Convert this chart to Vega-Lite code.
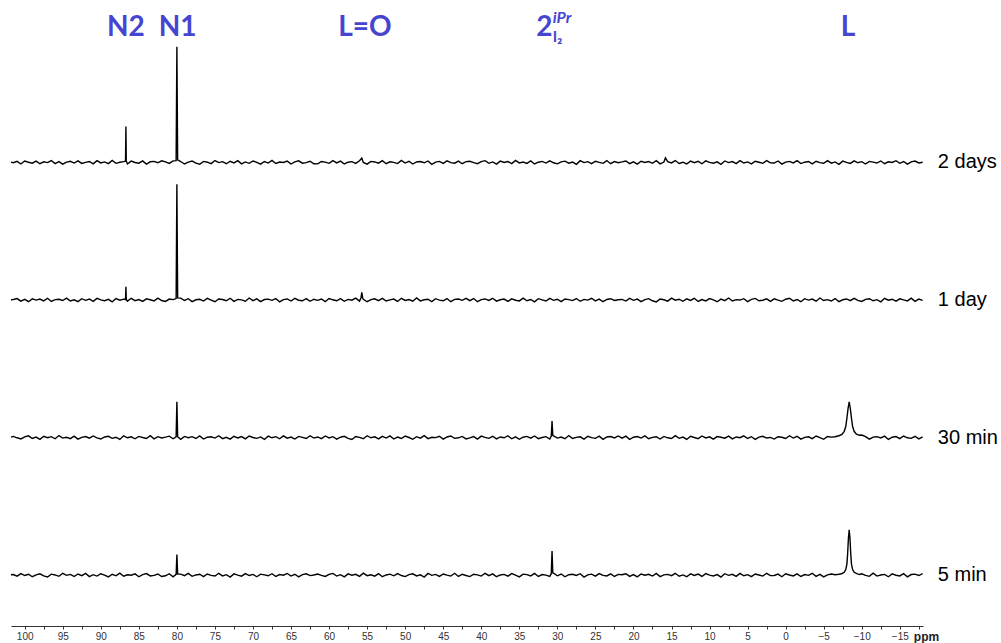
{
"$schema": "https://vega.github.io/schema/vega-lite/v6.json",
"width": 912, "height": 626,
"autosize": {"type": "none"},
"padding": {"left": 11, "top": 0, "right": 78, "bottom": 17},
"background": "white",
"config": {"view": {"stroke": null}},
"datasets": {
"spec": [
{"s":0,"x":101.8,"y":0.2},{"s":0,"x":101.5,"y":0.4},{"s":0,"x":101,"y":-0.8},{"s":0,"x":100.5,"y":1.1},{"s":0,"x":100,"y":-0.3},{"s":0,"x":99.5,"y":0.6},{"s":0,"x":99,"y":-1.2},{"s":0,"x":98.5,"y":0.2},{"s":0,"x":98,"y":0.9},{"s":0,"x":97.5,"y":-0.6},{"s":0,"x":97,"y":-1.4},{"s":0,"x":96.5,"y":0.7},{"s":0,"x":96,"y":0.1},{"s":0,"x":95.5,"y":-0.9},{"s":0,"x":95,"y":1.3},{"s":0,"x":94.5,"y":-0.2},{"s":0,"x":94,"y":0.5},{"s":0,"x":93.5,"y":-1},{"s":0,"x":93,"y":0.8},{"s":0,"x":92.5,"y":-0.4},{"s":0,"x":92,"y":1.2},{"s":0,"x":91.5,"y":-1.1},{"s":0,"x":91,"y":0.3},{"s":0,"x":90.5,"y":-0.7},{"s":0,"x":90,"y":1},{"s":0,"x":89.5,"y":0},{"s":0,"x":89,"y":-1.3},{"s":0,"x":88.5,"y":0.6},{"s":0,"x":88,"y":-0.5},{"s":0,"x":87.5,"y":1.4},{"s":0,"x":87,"y":-0.8},{"s":0,"x":86.5,"y":0.2},{"s":0,"x":86,"y":-0.1},{"s":0,"x":85.5,"y":0.9},{"s":0,"x":85,"y":-1.2},{"s":0,"x":84.5,"y":0.4},{"s":0,"x":84,"y":1.1},{"s":0,"x":83.5,"y":-0.6},{"s":0,"x":83,"y":-0.2},{"s":0,"x":82.5,"y":0.8},{"s":0,"x":82,"y":-1},
{"s":0,"x":81.5,"y":-0.5},{"s":0,"x":81,"y":1},{"s":0,"x":80.5,"y":-1.3},{"s":0,"x":80.1,"y":0.5},{"s":0,"x":80,"y":15},{"s":0,"x":79.9,"y":0.8},{"s":0,"x":79.5,"y":0.7},{"s":0,"x":79,"y":-0.4},{"s":0,"x":78.5,"y":1.2},{"s":0,"x":78,"y":-0.9},{"s":0,"x":77.5,"y":0.1},{"s":0,"x":77,"y":0.6},{"s":0,"x":76.5,"y":-1.1},{"s":0,"x":76,"y":0.8},{"s":0,"x":75.5,"y":-0.2},{"s":0,"x":75,"y":-0.7},{"s":0,"x":74.5,"y":1.3},{"s":0,"x":74,"y":-0.6},{"s":0,"x":73.5,"y":0.3},{"s":0,"x":73,"y":-1.4},{"s":0,"x":72.5,"y":0.9},{"s":0,"x":72,"y":0},{"s":0,"x":71.5,"y":-0.8},{"s":0,"x":71,"y":1.1},{"s":0,"x":70.5,"y":-0.3},{"s":0,"x":70,"y":0.5},{"s":0,"x":69.5,"y":-1.2},{"s":0,"x":69,"y":0.7},{"s":0,"x":68.5,"y":0.2},{"s":0,"x":68,"y":-0.5},{"s":0,"x":67.5,"y":1},{"s":0,"x":67,"y":-1},{"s":0,"x":66.5,"y":0.4},{"s":0,"x":66,"y":-0.1},{"s":0,"x":65.5,"y":1.2},{"s":0,"x":65,"y":-0.7},{"s":0,"x":64.5,"y":0.6},{"s":0,"x":64,"y":-1.3},{"s":0,"x":63.5,"y":0.3},{"s":0,"x":63,"y":0.9},{"s":0,"x":62.5,"y":-0.4},{"s":0,"x":62,"y":0.1},
{"s":0,"x":61.5,"y":0.8},{"s":0,"x":61,"y":-0.2},{"s":0,"x":60.5,"y":-1},{"s":0,"x":60,"y":0.5},{"s":0,"x":59.5,"y":1.2},{"s":0,"x":59,"y":-0.7},{"s":0,"x":58.5,"y":0.3},{"s":0,"x":58,"y":-1.3},{"s":0,"x":57.5,"y":0.9},{"s":0,"x":57,"y":-0.1},{"s":0,"x":56.5,"y":0.6},{"s":0,"x":56,"y":-0.9},{"s":0,"x":55.5,"y":1.4},{"s":0,"x":55,"y":-0.4},{"s":0,"x":54.5,"y":0.2},{"s":0,"x":54,"y":-0.8},{"s":0,"x":53.5,"y":1},{"s":0,"x":53,"y":-1.2},{"s":0,"x":52.5,"y":0.1},{"s":0,"x":52,"y":0.7},{"s":0,"x":51.5,"y":-0.5},{"s":0,"x":51,"y":1.1},{"s":0,"x":50.5,"y":-0.3},{"s":0,"x":50,"y":-1.1},{"s":0,"x":49.5,"y":0.4},{"s":0,"x":49,"y":0.9},{"s":0,"x":48.5,"y":-0.6},{"s":0,"x":48,"y":0.2},{"s":0,"x":47.5,"y":-1.4},{"s":0,"x":47,"y":1.2},{"s":0,"x":46.5,"y":-0.2},{"s":0,"x":46,"y":0.5},{"s":0,"x":45.5,"y":-0.9},{"s":0,"x":45,"y":0.8},{"s":0,"x":44.5,"y":0},{"s":0,"x":44,"y":-0.7},{"s":0,"x":43.5,"y":1.3},{"s":0,"x":43,"y":-1},{"s":0,"x":42.5,"y":0.6},{"s":0,"x":42,"y":-0.3},
{"s":0,"x":41.5,"y":-1.1},{"s":0,"x":41,"y":0.6},{"s":0,"x":40.5,"y":0.2},{"s":0,"x":40,"y":-0.7},{"s":0,"x":39.5,"y":1.3},{"s":0,"x":39,"y":-0.4},{"s":0,"x":38.5,"y":0.9},{"s":0,"x":38,"y":-1.2},{"s":0,"x":37.5,"y":0.1},{"s":0,"x":37,"y":0.5},{"s":0,"x":36.5,"y":-0.8},{"s":0,"x":36,"y":1.1},{"s":0,"x":35.5,"y":-0.1},{"s":0,"x":35,"y":-1.3},{"s":0,"x":34.5,"y":0.7},{"s":0,"x":34,"y":0.3},{"s":0,"x":33.5,"y":-0.6},{"s":0,"x":33,"y":1.2},{"s":0,"x":32.5,"y":-1},{"s":0,"x":32,"y":0.4},{"s":0,"x":31.5,"y":0},{"s":0,"x":31,"y":-0.9},{"s":0,"x":30.8,"y":1},{"s":0,"x":30.7,"y":17.5},{"s":0,"x":30.6,"y":1.5},{"s":0,"x":30.5,"y":1.4},{"s":0,"x":30,"y":-0.5},{"s":0,"x":29.5,"y":0.8},{"s":0,"x":29,"y":-1.2},{"s":0,"x":28.5,"y":0.3},{"s":0,"x":28,"y":0.6},{"s":0,"x":27.5,"y":-0.3},{"s":0,"x":27,"y":1},{"s":0,"x":26.5,"y":-1.4},{"s":0,"x":26,"y":0.2},{"s":0,"x":25.5,"y":0.7},{"s":0,"x":25,"y":-0.8},{"s":0,"x":24.5,"y":1.1},{"s":0,"x":24,"y":-0.2},{"s":0,"x":23.5,"y":-0.6},{"s":0,"x":23,"y":0.9},{"s":0,"x":22.5,"y":-1},{"s":0,"x":22,"y":0.5},
{"s":0,"x":21.5,"y":0.3},{"s":0,"x":21,"y":1},{"s":0,"x":20.5,"y":-0.9},{"s":0,"x":20,"y":0.4},{"s":0,"x":19.5,"y":-1.3},{"s":0,"x":19,"y":0.8},{"s":0,"x":18.5,"y":-0.1},{"s":0,"x":18,"y":0.6},{"s":0,"x":17.5,"y":-0.7},{"s":0,"x":17,"y":1.2},{"s":0,"x":16.5,"y":-1.1},{"s":0,"x":16,"y":0.2},{"s":0,"x":15.5,"y":0.5},{"s":0,"x":15,"y":-0.4},{"s":0,"x":14.5,"y":1.3},{"s":0,"x":14,"y":-0.8},{"s":0,"x":13.5,"y":0.1},{"s":0,"x":13,"y":-1.2},{"s":0,"x":12.5,"y":0.9},{"s":0,"x":12,"y":-0.3},{"s":0,"x":11.5,"y":0.7},{"s":0,"x":11,"y":-1},{"s":0,"x":10.5,"y":1.1},{"s":0,"x":10,"y":0},{"s":0,"x":9.5,"y":-0.6},{"s":0,"x":9,"y":0.4},{"s":0,"x":8.5,"y":-1.4},{"s":0,"x":8,"y":1},{"s":0,"x":7.5,"y":-0.2},{"s":0,"x":7,"y":0.6},{"s":0,"x":6.5,"y":-0.9},{"s":0,"x":6,"y":1.2},{"s":0,"x":5.5,"y":-0.5},{"s":0,"x":5,"y":0.3},{"s":0,"x":4.5,"y":-1.1},{"s":0,"x":4,"y":0.8},{"s":0,"x":3.5,"y":0.1},{"s":0,"x":3,"y":-0.7},{"s":0,"x":2.5,"y":1.3},{"s":0,"x":2,"y":-0.4},
{"s":0,"x":1.5,"y":-0.3},{"s":0,"x":1,"y":0.7},{"s":0,"x":0.5,"y":-1.2},{"s":0,"x":0,"y":1},{"s":0,"x":-0.5,"y":0.1},{"s":0,"x":-1,"y":-0.6},{"s":0,"x":-1.5,"y":0.9},{"s":0,"x":-2,"y":-1},{"s":0,"x":-2.5,"y":0.4},{"s":0,"x":-3,"y":-0.2},{"s":0,"x":-3.5,"y":1.3},{"s":0,"x":-4,"y":-0.9},{"s":0,"x":-4.5,"y":0.5},{"s":0,"x":-5,"y":-1.3},{"s":0,"x":-5.5,"y":0.2},{"s":0,"x":-6,"y":0.8},{"s":0,"x":-6.5,"y":0.3},{"s":0,"x":-7,"y":0.6},{"s":0,"x":-7.35,"y":1},{"s":0,"x":-7.7,"y":2},{"s":0,"x":-7.9,"y":4},{"s":0,"x":-8.05,"y":8},{"s":0,"x":-8.15,"y":16},{"s":0,"x":-8.25,"y":27},{"s":0,"x":-8.35,"y":33},{"s":0,"x":-8.45,"y":27},{"s":0,"x":-8.55,"y":16},{"s":0,"x":-8.65,"y":8},{"s":0,"x":-8.8,"y":4},{"s":0,"x":-9,"y":2},{"s":0,"x":-9.35,"y":1},{"s":0,"x":-9.7,"y":0.4},{"s":0,"x":-10,"y":0.9},{"s":0,"x":-10.5,"y":-0.2},{"s":0,"x":-11,"y":-0.9},{"s":0,"x":-11.5,"y":1.4},{"s":0,"x":-12,"y":-0.7},{"s":0,"x":-12.5,"y":0.1},{"s":0,"x":-13,"y":0.5},{"s":0,"x":-13.5,"y":-1.2},{"s":0,"x":-14,"y":0.9},{"s":0,"x":-14.5,"y":-0.1},{"s":0,"x":-15,"y":-0.6},{"s":0,"x":-15.5,"y":1},{"s":0,"x":-16,"y":-1.3},{"s":0,"x":-16.5,"y":0.4},{"s":0,"x":-17,"y":0.7},{"s":0,"x":-17.5,"y":-0.3},{"s":0,"x":-18,"y":1.1},

{"s":1,"x":101.8,"y":100.3},{"s":1,"x":101.5,"y":100.8},{"s":1,"x":101,"y":99.8},{"s":1,"x":100.5,"y":99},{"s":1,"x":100,"y":100.5},{"s":1,"x":99.5,"y":101.2},{"s":1,"x":99,"y":99.3},{"s":1,"x":98.5,"y":100.3},{"s":1,"x":98,"y":98.7},{"s":1,"x":97.5,"y":100.9},{"s":1,"x":97,"y":99.9},{"s":1,"x":96.5,"y":100.6},{"s":1,"x":96,"y":99.1},{"s":1,"x":95.5,"y":101.4},{"s":1,"x":95,"y":99.6},{"s":1,"x":94.5,"y":100.2},{"s":1,"x":94,"y":99.2},{"s":1,"x":93.5,"y":101},{"s":1,"x":93,"y":98.8},{"s":1,"x":92.5,"y":100.1},{"s":1,"x":92,"y":100.7},{"s":1,"x":91.5,"y":99.5},{"s":1,"x":91,"y":101.1},{"s":1,"x":90.5,"y":99.7},{"s":1,"x":90,"y":98.9},{"s":1,"x":89.5,"y":100.4},{"s":1,"x":89,"y":100.9},{"s":1,"x":88.5,"y":99.4},{"s":1,"x":88,"y":100.2},{"s":1,"x":87.5,"y":98.6},{"s":1,"x":87,"y":101.2},{"s":1,"x":86.5,"y":99.8},{"s":1,"x":86,"y":100.5},{"s":1,"x":85.5,"y":99.1},{"s":1,"x":85,"y":100.8},{"s":1,"x":84.5,"y":100},{"s":1,"x":84,"y":99.3},{"s":1,"x":83.5,"y":101.3},{"s":1,"x":83,"y":99},{"s":1,"x":82.5,"y":100.6},{"s":1,"x":82,"y":99.7},
{"s":1,"x":81.5,"y":100.3},{"s":1,"x":81,"y":101},{"s":1,"x":80.5,"y":99.1},{"s":1,"x":80.1,"y":100.5},{"s":1,"x":80,"y":126},{"s":1,"x":79.9,"y":100.6},{"s":1,"x":79.5,"y":98.7},{"s":1,"x":79,"y":100.8},{"s":1,"x":78.5,"y":99.9},{"s":1,"x":78,"y":100.6},{"s":1,"x":77.5,"y":99.3},{"s":1,"x":77,"y":101.2},{"s":1,"x":76.5,"y":98.9},{"s":1,"x":76,"y":100.2},{"s":1,"x":75.5,"y":100.5},{"s":1,"x":75,"y":99.6},{"s":1,"x":74.5,"y":101.3},{"s":1,"x":74,"y":99.2},{"s":1,"x":73.5,"y":100.1},{"s":1,"x":73,"y":98.8},{"s":1,"x":72.5,"y":100.9},{"s":1,"x":72,"y":99.7},{"s":1,"x":71.5,"y":100.7},{"s":1,"x":71,"y":99},{"s":1,"x":70.5,"y":101.1},{"s":1,"x":70,"y":100},{"s":1,"x":69.5,"y":99.4},{"s":1,"x":69,"y":100.4},{"s":1,"x":68.5,"y":98.6},{"s":1,"x":68,"y":101},{"s":1,"x":67.5,"y":99.8},{"s":1,"x":67,"y":100.6},{"s":1,"x":66.5,"y":99.1},{"s":1,"x":66,"y":101.2},{"s":1,"x":65.5,"y":99.5},{"s":1,"x":65,"y":100.3},{"s":1,"x":64.5,"y":98.9},{"s":1,"x":64,"y":100.8},{"s":1,"x":63.5,"y":100.1},{"s":1,"x":63,"y":99.3},{"s":1,"x":62.5,"y":101.3},{"s":1,"x":62,"y":99.6},
{"s":1,"x":61.5,"y":100.4},{"s":1,"x":61,"y":99.2},{"s":1,"x":60.5,"y":101.1},{"s":1,"x":60,"y":99.7},{"s":1,"x":59.5,"y":100.6},{"s":1,"x":59,"y":98.8},{"s":1,"x":58.5,"y":100.2},{"s":1,"x":58,"y":100.9},{"s":1,"x":57.5,"y":99.4},{"s":1,"x":57,"y":98.6},{"s":1,"x":56.5,"y":100.7},{"s":1,"x":56,"y":100.1},{"s":1,"x":55.5,"y":99.1},{"s":1,"x":55,"y":101.3},{"s":1,"x":54.5,"y":99.8},{"s":1,"x":54,"y":100.5},{"s":1,"x":53.5,"y":99},{"s":1,"x":53,"y":100.8},{"s":1,"x":52.5,"y":99.6},{"s":1,"x":52,"y":101.2},{"s":1,"x":51.5,"y":98.9},{"s":1,"x":51,"y":100.3},{"s":1,"x":50.5,"y":99.3},{"s":1,"x":50,"y":101},{"s":1,"x":49.5,"y":100},{"s":1,"x":49,"y":98.7},{"s":1,"x":48.5,"y":100.6},{"s":1,"x":48,"y":99.5},{"s":1,"x":47.5,"y":101.4},{"s":1,"x":47,"y":99.2},{"s":1,"x":46.5,"y":100.2},{"s":1,"x":46,"y":99.9},{"s":1,"x":45.5,"y":100.9},{"s":1,"x":45,"y":98.8},{"s":1,"x":44.5,"y":100.4},{"s":1,"x":44,"y":101.1},{"s":1,"x":43.5,"y":99.4},{"s":1,"x":43,"y":99.8},{"s":1,"x":42.5,"y":100.8},{"s":1,"x":42,"y":99},
{"s":1,"x":41.5,"y":99.7},{"s":1,"x":41,"y":100.7},{"s":1,"x":40.5,"y":98.8},{"s":1,"x":40,"y":101},{"s":1,"x":39.5,"y":100.1},{"s":1,"x":39,"y":99.4},{"s":1,"x":38.5,"y":100.9},{"s":1,"x":38,"y":99},{"s":1,"x":37.5,"y":100.4},{"s":1,"x":37,"y":99.8},{"s":1,"x":36.5,"y":101.3},{"s":1,"x":36,"y":99.1},{"s":1,"x":35.5,"y":100.5},{"s":1,"x":35,"y":98.7},{"s":1,"x":34.5,"y":100.2},{"s":1,"x":34,"y":100.8},{"s":1,"x":33.5,"y":99.5},{"s":1,"x":33,"y":101.1},{"s":1,"x":32.5,"y":99.2},{"s":1,"x":32,"y":100},{"s":1,"x":31.5,"y":100.6},{"s":1,"x":31,"y":98.9},{"s":1,"x":30.8,"y":101},{"s":1,"x":30.7,"y":112},{"s":1,"x":30.6,"y":101.5},{"s":1,"x":30.5,"y":101.2},{"s":1,"x":30,"y":99.6},{"s":1,"x":29.5,"y":100.3},{"s":1,"x":29,"y":99.1},{"s":1,"x":28.5,"y":101.4},{"s":1,"x":28,"y":99.3},{"s":1,"x":27.5,"y":100.1},{"s":1,"x":27,"y":100.5},{"s":1,"x":26.5,"y":98.8},{"s":1,"x":26,"y":100.9},{"s":1,"x":25.5,"y":99.9},{"s":1,"x":25,"y":99.4},{"s":1,"x":24.5,"y":101},{"s":1,"x":24,"y":98.7},{"s":1,"x":23.5,"y":100.4},{"s":1,"x":23,"y":100.7},{"s":1,"x":22.5,"y":99.7},{"s":1,"x":22,"y":101.1},
{"s":1,"x":21.5,"y":99.5},{"s":1,"x":21,"y":101},{"s":1,"x":20.5,"y":98.7},{"s":1,"x":20,"y":100.2},{"s":1,"x":19.5,"y":100.7},{"s":1,"x":19,"y":99.6},{"s":1,"x":18.5,"y":101.2},{"s":1,"x":18,"y":99.1},{"s":1,"x":17.5,"y":100.1},{"s":1,"x":17,"y":100.6},{"s":1,"x":16.5,"y":98.9},{"s":1,"x":16,"y":100.8},{"s":1,"x":15.5,"y":99.8},{"s":1,"x":15,"y":99.3},{"s":1,"x":14.5,"y":101.3},{"s":1,"x":14,"y":99.4},{"s":1,"x":13.5,"y":100.3},{"s":1,"x":13,"y":98.6},{"s":1,"x":12.5,"y":100.9},{"s":1,"x":12,"y":100},{"s":1,"x":11.5,"y":99.2},{"s":1,"x":11,"y":101.1},{"s":1,"x":10.5,"y":99.7},{"s":1,"x":10,"y":100.5},{"s":1,"x":9.5,"y":98.8},{"s":1,"x":9,"y":100.7},{"s":1,"x":8.5,"y":100.2},{"s":1,"x":8,"y":99.5},{"s":1,"x":7.5,"y":101},{"s":1,"x":7,"y":99},{"s":1,"x":6.5,"y":100.4},{"s":1,"x":6,"y":99.9},{"s":1,"x":5.5,"y":101.2},{"s":1,"x":5,"y":99.3},{"s":1,"x":4.5,"y":100.6},{"s":1,"x":4,"y":98.7},{"s":1,"x":3.5,"y":100.3},{"s":1,"x":3,"y":100.9},{"s":1,"x":2.5,"y":99.6},{"s":1,"x":2,"y":100.1},
{"s":1,"x":1.5,"y":98.9},{"s":1,"x":1,"y":100.6},{"s":1,"x":0.5,"y":100.2},{"s":1,"x":0,"y":99.3},{"s":1,"x":-0.5,"y":101.3},{"s":1,"x":-1,"y":99.6},{"s":1,"x":-1.5,"y":100.9},{"s":1,"x":-2,"y":98.8},{"s":1,"x":-2.5,"y":100.1},{"s":1,"x":-3,"y":100.5},{"s":1,"x":-3.5,"y":99.2},{"s":1,"x":-4,"y":101.1},{"s":1,"x":-4.5,"y":99.9},{"s":1,"x":-5,"y":98.7},{"s":1,"x":-5.5,"y":100.7},{"s":1,"x":-6,"y":100.3},{"s":1,"x":-6.5,"y":100.6},{"s":1,"x":-7,"y":101.3},{"s":1,"x":-7.4,"y":102.3},{"s":1,"x":-7.7,"y":104.5},{"s":1,"x":-7.9,"y":108},{"s":1,"x":-8.05,"y":114},{"s":1,"x":-8.2,"y":121},{"s":1,"x":-8.35,"y":126},{"s":1,"x":-8.5,"y":121},{"s":1,"x":-8.65,"y":114},{"s":1,"x":-8.8,"y":108},{"s":1,"x":-9,"y":104.5},{"s":1,"x":-9.3,"y":102.5},{"s":1,"x":-9.7,"y":101.6},{"s":1,"x":-10,"y":101.8},{"s":1,"x":-10.5,"y":100.7},{"s":1,"x":-11,"y":98.8},{"s":1,"x":-11.5,"y":100.3},{"s":1,"x":-12,"y":100.6},{"s":1,"x":-12.5,"y":99.7},{"s":1,"x":-13,"y":101},{"s":1,"x":-13.5,"y":98.6},{"s":1,"x":-14,"y":100.2},{"s":1,"x":-14.5,"y":100.7},{"s":1,"x":-15,"y":99.2},{"s":1,"x":-15.5,"y":101.1},{"s":1,"x":-16,"y":99.8},{"s":1,"x":-16.5,"y":99.4},{"s":1,"x":-17,"y":100.9},{"s":1,"x":-17.5,"y":99},{"s":1,"x":-18,"y":100.5},

{"s":2,"x":101.8,"y":200.1},{"s":2,"x":101.5,"y":200.3},{"s":2,"x":101,"y":201},{"s":2,"x":100.5,"y":199.1},{"s":2,"x":100,"y":200.4},{"s":2,"x":99.5,"y":198.7},{"s":2,"x":99,"y":200.8},{"s":2,"x":98.5,"y":199.9},{"s":2,"x":98,"y":200.6},{"s":2,"x":97.5,"y":199.3},{"s":2,"x":97,"y":201.2},{"s":2,"x":96.5,"y":198.9},{"s":2,"x":96,"y":200.2},{"s":2,"x":95.5,"y":200.5},{"s":2,"x":95,"y":199.6},{"s":2,"x":94.5,"y":201.3},{"s":2,"x":94,"y":199.2},{"s":2,"x":93.5,"y":200.1},{"s":2,"x":93,"y":198.8},{"s":2,"x":92.5,"y":200.9},{"s":2,"x":92,"y":199.7},{"s":2,"x":91.5,"y":200.7},{"s":2,"x":91,"y":199},{"s":2,"x":90.5,"y":201.1},{"s":2,"x":90,"y":200},{"s":2,"x":89.5,"y":199.4},{"s":2,"x":89,"y":200.4},{"s":2,"x":88.5,"y":198.6},{"s":2,"x":88,"y":201},{"s":2,"x":87.5,"y":199.8},{"s":2,"x":87,"y":200.6},{"s":2,"x":86.75,"y":200.3},{"s":2,"x":86.7,"y":209.5},{"s":2,"x":86.65,"y":200.5},{"s":2,"x":86.5,"y":199.1},{"s":2,"x":86,"y":201.2},{"s":2,"x":85.5,"y":199.5},{"s":2,"x":85,"y":200.3},{"s":2,"x":84.5,"y":198.9},{"s":2,"x":84,"y":200.8},{"s":2,"x":83.5,"y":200.1},{"s":2,"x":83,"y":199.3},{"s":2,"x":82.5,"y":201.3},{"s":2,"x":82,"y":199.6},
{"s":2,"x":81.5,"y":198.9},{"s":2,"x":81,"y":200.6},{"s":2,"x":80.5,"y":200.2},{"s":2,"x":80.1,"y":201},{"s":2,"x":80,"y":284},{"s":2,"x":79.9,"y":201.5},{"s":2,"x":79.5,"y":201.3},{"s":2,"x":79,"y":199.6},{"s":2,"x":78.5,"y":200.9},{"s":2,"x":78,"y":198.8},{"s":2,"x":77.5,"y":200.1},{"s":2,"x":77,"y":200.5},{"s":2,"x":76.5,"y":199.2},{"s":2,"x":76,"y":201.1},{"s":2,"x":75.5,"y":199.9},{"s":2,"x":75,"y":198.7},{"s":2,"x":74.5,"y":200.7},{"s":2,"x":74,"y":200.3},{"s":2,"x":73.5,"y":199.4},{"s":2,"x":73,"y":201.2},{"s":2,"x":72.5,"y":199},{"s":2,"x":72,"y":200.4},{"s":2,"x":71.5,"y":200},{"s":2,"x":71,"y":199.1},{"s":2,"x":70.5,"y":201.4},{"s":2,"x":70,"y":199.5},{"s":2,"x":69.5,"y":200.8},{"s":2,"x":69,"y":198.8},{"s":2,"x":68.5,"y":200.3},{"s":2,"x":68,"y":200.6},{"s":2,"x":67.5,"y":199.7},{"s":2,"x":67,"y":201},{"s":2,"x":66.5,"y":198.6},{"s":2,"x":66,"y":200.2},{"s":2,"x":65.5,"y":200.7},{"s":2,"x":65,"y":199.2},{"s":2,"x":64.5,"y":201.1},{"s":2,"x":64,"y":199.8},{"s":2,"x":63.5,"y":199.4},{"s":2,"x":63,"y":200.9},{"s":2,"x":62.5,"y":199},{"s":2,"x":62,"y":200.5},
{"s":2,"x":61.5,"y":199.7},{"s":2,"x":61,"y":200.7},{"s":2,"x":60.5,"y":198.8},{"s":2,"x":60,"y":201},{"s":2,"x":59.5,"y":200.1},{"s":2,"x":59,"y":199.4},{"s":2,"x":58.5,"y":200.9},{"s":2,"x":58,"y":199},{"s":2,"x":57.5,"y":200.4},{"s":2,"x":57,"y":199.8},{"s":2,"x":56.5,"y":201.3},{"s":2,"x":56,"y":199.1},{"s":2,"x":55.8,"y":201.5},{"s":2,"x":55.7,"y":205.5},{"s":2,"x":55.6,"y":201.8},{"s":2,"x":55.5,"y":200.5},{"s":2,"x":55,"y":198.7},{"s":2,"x":54.5,"y":200.2},{"s":2,"x":54,"y":200.8},{"s":2,"x":53.5,"y":199.5},{"s":2,"x":53,"y":201.1},{"s":2,"x":52.5,"y":199.2},{"s":2,"x":52,"y":200},{"s":2,"x":51.5,"y":200.6},{"s":2,"x":51,"y":198.9},{"s":2,"x":50.5,"y":201.2},{"s":2,"x":50,"y":199.6},{"s":2,"x":49.5,"y":200.3},{"s":2,"x":49,"y":199.1},{"s":2,"x":48.5,"y":201.4},{"s":2,"x":48,"y":199.3},{"s":2,"x":47.5,"y":200.1},{"s":2,"x":47,"y":200.5},{"s":2,"x":46.5,"y":198.8},{"s":2,"x":46,"y":200.9},{"s":2,"x":45.5,"y":199.9},{"s":2,"x":45,"y":199.4},{"s":2,"x":44.5,"y":201},{"s":2,"x":44,"y":198.7},{"s":2,"x":43.5,"y":200.4},{"s":2,"x":43,"y":200.7},{"s":2,"x":42.5,"y":199.7},{"s":2,"x":42,"y":201.1},
{"s":2,"x":41.5,"y":199.5},{"s":2,"x":41,"y":201},{"s":2,"x":40.5,"y":198.7},{"s":2,"x":40,"y":200.2},{"s":2,"x":39.5,"y":200.7},{"s":2,"x":39,"y":199.6},{"s":2,"x":38.5,"y":201.2},{"s":2,"x":38,"y":199.1},{"s":2,"x":37.5,"y":200.1},{"s":2,"x":37,"y":200.6},{"s":2,"x":36.5,"y":198.9},{"s":2,"x":36,"y":200.8},{"s":2,"x":35.5,"y":199.8},{"s":2,"x":35,"y":199.3},{"s":2,"x":34.5,"y":201.3},{"s":2,"x":34,"y":199.4},{"s":2,"x":33.5,"y":200.3},{"s":2,"x":33,"y":198.6},{"s":2,"x":32.5,"y":200.9},{"s":2,"x":32,"y":200},{"s":2,"x":31.5,"y":199.2},{"s":2,"x":31,"y":201.1},{"s":2,"x":30.5,"y":199.7},{"s":2,"x":30,"y":200.5},{"s":2,"x":29.5,"y":198.8},{"s":2,"x":29,"y":200.7},{"s":2,"x":28.5,"y":200.2},{"s":2,"x":28,"y":199.5},{"s":2,"x":27.5,"y":201},{"s":2,"x":27,"y":199},{"s":2,"x":26.5,"y":200.4},{"s":2,"x":26,"y":199.9},{"s":2,"x":25.5,"y":201.2},{"s":2,"x":25,"y":199.3},{"s":2,"x":24.5,"y":200.6},{"s":2,"x":24,"y":198.7},{"s":2,"x":23.5,"y":200.3},{"s":2,"x":23,"y":200.9},{"s":2,"x":22.5,"y":199.6},{"s":2,"x":22,"y":200.1},
{"s":2,"x":21.5,"y":200.4},{"s":2,"x":21,"y":199.2},{"s":2,"x":20.5,"y":201.1},{"s":2,"x":20,"y":199.7},{"s":2,"x":19.5,"y":200.6},{"s":2,"x":19,"y":198.8},{"s":2,"x":18.5,"y":200.2},{"s":2,"x":18,"y":200.9},{"s":2,"x":17.5,"y":199.4},{"s":2,"x":17,"y":198.6},{"s":2,"x":16.5,"y":200.7},{"s":2,"x":16,"y":200.1},{"s":2,"x":15.5,"y":199.1},{"s":2,"x":15,"y":201.3},{"s":2,"x":14.5,"y":199.8},{"s":2,"x":14,"y":200.5},{"s":2,"x":13.5,"y":199},{"s":2,"x":13,"y":200.8},{"s":2,"x":12.5,"y":199.6},{"s":2,"x":12,"y":201.2},{"s":2,"x":11.5,"y":198.9},{"s":2,"x":11,"y":200.3},{"s":2,"x":10.5,"y":199.3},{"s":2,"x":10,"y":201},{"s":2,"x":9.5,"y":200},{"s":2,"x":9,"y":198.7},{"s":2,"x":8.5,"y":200.6},{"s":2,"x":8,"y":199.5},{"s":2,"x":7.5,"y":201.4},{"s":2,"x":7,"y":199.2},{"s":2,"x":6.5,"y":200.2},{"s":2,"x":6,"y":199.9},{"s":2,"x":5.5,"y":200.9},{"s":2,"x":5,"y":198.8},{"s":2,"x":4.5,"y":200.4},{"s":2,"x":4,"y":201.1},{"s":2,"x":3.5,"y":199.4},{"s":2,"x":3,"y":199.8},{"s":2,"x":2.5,"y":200.8},{"s":2,"x":2,"y":199},
{"s":2,"x":1.5,"y":200.8},{"s":2,"x":1,"y":199.8},{"s":2,"x":0.5,"y":199},{"s":2,"x":0,"y":200.5},{"s":2,"x":-0.5,"y":201.2},{"s":2,"x":-1,"y":199.3},{"s":2,"x":-1.5,"y":200.3},{"s":2,"x":-2,"y":198.7},{"s":2,"x":-2.5,"y":200.9},{"s":2,"x":-3,"y":199.9},{"s":2,"x":-3.5,"y":200.6},{"s":2,"x":-4,"y":199.1},{"s":2,"x":-4.5,"y":201.4},{"s":2,"x":-5,"y":199.6},{"s":2,"x":-5.5,"y":200.2},{"s":2,"x":-6,"y":199.2},{"s":2,"x":-6.5,"y":201},{"s":2,"x":-7,"y":198.8},{"s":2,"x":-7.5,"y":200.1},{"s":2,"x":-8,"y":200.7},{"s":2,"x":-8.5,"y":199.5},{"s":2,"x":-9,"y":201.1},{"s":2,"x":-9.5,"y":199.7},{"s":2,"x":-10,"y":198.9},{"s":2,"x":-10.5,"y":200.4},{"s":2,"x":-11,"y":200.9},{"s":2,"x":-11.5,"y":199.4},{"s":2,"x":-12,"y":200.2},{"s":2,"x":-12.5,"y":198.6},{"s":2,"x":-13,"y":201.2},{"s":2,"x":-13.5,"y":199.8},{"s":2,"x":-14,"y":200.5},{"s":2,"x":-14.5,"y":199.1},{"s":2,"x":-15,"y":200.8},{"s":2,"x":-15.5,"y":200},{"s":2,"x":-16,"y":199.3},{"s":2,"x":-16.5,"y":201.3},{"s":2,"x":-17,"y":199},{"s":2,"x":-17.5,"y":200.6},{"s":2,"x":-18,"y":199.7},

{"s":3,"x":101.8,"y":300.2},{"s":3,"x":101.5,"y":299.7},{"s":3,"x":101,"y":300.7},{"s":3,"x":100.5,"y":298.8},{"s":3,"x":100,"y":301},{"s":3,"x":99.5,"y":300.1},{"s":3,"x":99,"y":299.4},{"s":3,"x":98.5,"y":300.9},{"s":3,"x":98,"y":299},{"s":3,"x":97.5,"y":300.4},{"s":3,"x":97,"y":299.8},{"s":3,"x":96.5,"y":301.3},{"s":3,"x":96,"y":299.1},{"s":3,"x":95.5,"y":300.5},{"s":3,"x":95,"y":298.7},{"s":3,"x":94.5,"y":300.2},{"s":3,"x":94,"y":300.8},{"s":3,"x":93.5,"y":299.5},{"s":3,"x":93,"y":301.1},{"s":3,"x":92.5,"y":299.2},{"s":3,"x":92,"y":300},{"s":3,"x":91.5,"y":300.6},{"s":3,"x":91,"y":298.9},{"s":3,"x":90.5,"y":301.2},{"s":3,"x":90,"y":299.6},{"s":3,"x":89.5,"y":300.3},{"s":3,"x":89,"y":299.1},{"s":3,"x":88.5,"y":301.4},{"s":3,"x":88,"y":299.3},{"s":3,"x":87.5,"y":300.1},{"s":3,"x":87,"y":300.5},{"s":3,"x":86.75,"y":300.8},{"s":3,"x":86.7,"y":326},{"s":3,"x":86.65,"y":301},{"s":3,"x":86.5,"y":298.8},{"s":3,"x":86,"y":300.9},{"s":3,"x":85.5,"y":299.9},{"s":3,"x":85,"y":299.4},{"s":3,"x":84.5,"y":301},{"s":3,"x":84,"y":298.7},{"s":3,"x":83.5,"y":300.4},{"s":3,"x":83,"y":300.7},{"s":3,"x":82.5,"y":299.7},{"s":3,"x":82,"y":301.1},
{"s":3,"x":81.5,"y":300.4},{"s":3,"x":81,"y":299.2},{"s":3,"x":80.5,"y":301.1},{"s":3,"x":80.1,"y":301.2},{"s":3,"x":80,"y":384},{"s":3,"x":79.9,"y":301.8},{"s":3,"x":79.5,"y":300.6},{"s":3,"x":79,"y":298.8},{"s":3,"x":78.5,"y":300.2},{"s":3,"x":78,"y":300.9},{"s":3,"x":77.5,"y":299.4},{"s":3,"x":77,"y":298.6},{"s":3,"x":76.5,"y":300.7},{"s":3,"x":76,"y":300.1},{"s":3,"x":75.5,"y":299.1},{"s":3,"x":75,"y":301.3},{"s":3,"x":74.5,"y":299.8},{"s":3,"x":74,"y":300.5},{"s":3,"x":73.5,"y":299},{"s":3,"x":73,"y":300.8},{"s":3,"x":72.5,"y":299.6},{"s":3,"x":72,"y":301.2},{"s":3,"x":71.5,"y":298.9},{"s":3,"x":71,"y":300.3},{"s":3,"x":70.5,"y":299.3},{"s":3,"x":70,"y":301},{"s":3,"x":69.5,"y":300},{"s":3,"x":69,"y":298.7},{"s":3,"x":68.5,"y":300.6},{"s":3,"x":68,"y":299.5},{"s":3,"x":67.5,"y":301.4},{"s":3,"x":67,"y":299.2},{"s":3,"x":66.5,"y":300.2},{"s":3,"x":66,"y":299.9},{"s":3,"x":65.5,"y":300.9},{"s":3,"x":65,"y":298.8},{"s":3,"x":64.5,"y":300.4},{"s":3,"x":64,"y":301.1},{"s":3,"x":63.5,"y":299.4},{"s":3,"x":63,"y":299.8},{"s":3,"x":62.5,"y":300.8},{"s":3,"x":62,"y":299},
{"s":3,"x":61.5,"y":298.9},{"s":3,"x":61,"y":300.6},{"s":3,"x":60.5,"y":300.2},{"s":3,"x":60,"y":299.3},{"s":3,"x":59.5,"y":301.3},{"s":3,"x":59,"y":299.6},{"s":3,"x":58.5,"y":300.9},{"s":3,"x":58,"y":298.8},{"s":3,"x":57.5,"y":300.1},{"s":3,"x":57,"y":300.5},{"s":3,"x":56.5,"y":299.2},{"s":3,"x":56,"y":301.1},{"s":3,"x":55.7,"y":303},{"s":3,"x":55.5,"y":299.9},{"s":3,"x":55,"y":298.7},{"s":3,"x":54.5,"y":300.7},{"s":3,"x":54,"y":300.3},{"s":3,"x":53.5,"y":299.4},{"s":3,"x":53,"y":301.2},{"s":3,"x":52.5,"y":299},{"s":3,"x":52,"y":300.4},{"s":3,"x":51.5,"y":300},{"s":3,"x":51,"y":299.1},{"s":3,"x":50.5,"y":301.4},{"s":3,"x":50,"y":299.5},{"s":3,"x":49.5,"y":300.8},{"s":3,"x":49,"y":298.8},{"s":3,"x":48.5,"y":300.3},{"s":3,"x":48,"y":300.6},{"s":3,"x":47.5,"y":299.7},{"s":3,"x":47,"y":301},{"s":3,"x":46.5,"y":298.6},{"s":3,"x":46,"y":300.2},{"s":3,"x":45.5,"y":300.7},{"s":3,"x":45,"y":299.2},{"s":3,"x":44.5,"y":301.1},{"s":3,"x":44,"y":299.8},{"s":3,"x":43.5,"y":299.4},{"s":3,"x":43,"y":300.9},{"s":3,"x":42.5,"y":299},{"s":3,"x":42,"y":300.5},
{"s":3,"x":41.5,"y":300.8},{"s":3,"x":41,"y":299.8},{"s":3,"x":40.5,"y":299},{"s":3,"x":40,"y":300.5},{"s":3,"x":39.5,"y":301.2},{"s":3,"x":39,"y":299.3},{"s":3,"x":38.5,"y":300.3},{"s":3,"x":38,"y":298.7},{"s":3,"x":37.5,"y":300.9},{"s":3,"x":37,"y":299.9},{"s":3,"x":36.5,"y":300.6},{"s":3,"x":36,"y":299.1},{"s":3,"x":35.5,"y":301.4},{"s":3,"x":35,"y":299.6},{"s":3,"x":34.5,"y":300.2},{"s":3,"x":34,"y":299.2},{"s":3,"x":33.5,"y":301},{"s":3,"x":33,"y":298.8},{"s":3,"x":32.5,"y":300.1},{"s":3,"x":32,"y":300.7},{"s":3,"x":31.5,"y":299.5},{"s":3,"x":31,"y":301.1},{"s":3,"x":30.5,"y":299.7},{"s":3,"x":30,"y":298.9},{"s":3,"x":29.5,"y":300.4},{"s":3,"x":29,"y":300.9},{"s":3,"x":28.5,"y":299.4},{"s":3,"x":28,"y":300.2},{"s":3,"x":27.5,"y":298.6},{"s":3,"x":27,"y":301.2},{"s":3,"x":26.5,"y":299.8},{"s":3,"x":26,"y":300.5},{"s":3,"x":25.5,"y":299.1},{"s":3,"x":25,"y":300.8},{"s":3,"x":24.5,"y":300},{"s":3,"x":24,"y":299.3},{"s":3,"x":23.5,"y":301.3},{"s":3,"x":23,"y":299},{"s":3,"x":22.5,"y":300.6},{"s":3,"x":22,"y":299.7},
{"s":3,"x":21.5,"y":300.3},{"s":3,"x":21,"y":301},{"s":3,"x":20.5,"y":299.1},{"s":3,"x":20,"y":300.4},{"s":3,"x":19.5,"y":298.7},{"s":3,"x":19,"y":300.8},{"s":3,"x":18.5,"y":299.9},{"s":3,"x":18,"y":300.6},{"s":3,"x":17.5,"y":299.3},{"s":3,"x":17,"y":301.2},{"s":3,"x":16.5,"y":298.9},{"s":3,"x":16,"y":300.2},{"s":3,"x":15.8,"y":303.2},{"s":3,"x":15.5,"y":300.5},{"s":3,"x":15,"y":299.6},{"s":3,"x":14.5,"y":301.3},{"s":3,"x":14,"y":299.2},{"s":3,"x":13.5,"y":300.1},{"s":3,"x":13,"y":298.8},{"s":3,"x":12.5,"y":300.9},{"s":3,"x":12,"y":299.7},{"s":3,"x":11.5,"y":300.7},{"s":3,"x":11,"y":299},{"s":3,"x":10.5,"y":301.1},{"s":3,"x":10,"y":300},{"s":3,"x":9.5,"y":299.4},{"s":3,"x":9,"y":300.4},{"s":3,"x":8.5,"y":298.6},{"s":3,"x":8,"y":301},{"s":3,"x":7.5,"y":299.8},{"s":3,"x":7,"y":300.6},{"s":3,"x":6.5,"y":299.1},{"s":3,"x":6,"y":301.2},{"s":3,"x":5.5,"y":299.5},{"s":3,"x":5,"y":300.3},{"s":3,"x":4.5,"y":298.9},{"s":3,"x":4,"y":300.8},{"s":3,"x":3.5,"y":300.1},{"s":3,"x":3,"y":299.3},{"s":3,"x":2.5,"y":301.3},{"s":3,"x":2,"y":299.6},
{"s":3,"x":1.5,"y":299.5},{"s":3,"x":1,"y":301},{"s":3,"x":0.5,"y":298.7},{"s":3,"x":0,"y":300.2},{"s":3,"x":-0.5,"y":300.7},{"s":3,"x":-1,"y":299.6},{"s":3,"x":-1.5,"y":301.2},{"s":3,"x":-2,"y":299.1},{"s":3,"x":-2.5,"y":300.1},{"s":3,"x":-3,"y":300.6},{"s":3,"x":-3.5,"y":298.9},{"s":3,"x":-4,"y":300.8},{"s":3,"x":-4.5,"y":299.8},{"s":3,"x":-5,"y":299.3},{"s":3,"x":-5.5,"y":301.3},{"s":3,"x":-6,"y":299.4},{"s":3,"x":-6.5,"y":300.3},{"s":3,"x":-7,"y":298.6},{"s":3,"x":-7.5,"y":300.9},{"s":3,"x":-8,"y":300},{"s":3,"x":-8.5,"y":299.2},{"s":3,"x":-9,"y":301.1},{"s":3,"x":-9.5,"y":299.7},{"s":3,"x":-10,"y":300.5},{"s":3,"x":-10.5,"y":298.8},{"s":3,"x":-11,"y":300.7},{"s":3,"x":-11.5,"y":300.2},{"s":3,"x":-12,"y":299.5},{"s":3,"x":-12.5,"y":301},{"s":3,"x":-13,"y":299},{"s":3,"x":-13.5,"y":300.4},{"s":3,"x":-14,"y":299.9},{"s":3,"x":-14.5,"y":301.2},{"s":3,"x":-15,"y":299.3},{"s":3,"x":-15.5,"y":300.6},{"s":3,"x":-16,"y":298.7},{"s":3,"x":-16.5,"y":300.3},{"s":3,"x":-17,"y":300.9},{"s":3,"x":-17.5,"y":299.6},{"s":3,"x":-18,"y":300.1}
],
"lab": [
{"t":"5 min","x":-20,"y":0},{"t":"30 min","x":-20,"y":100},{"t":"1 day","x":-20,"y":200},{"t":"2 days","x":-20,"y":300}
],
"top": [
{"t":"N2","x":86.7,"y":398},{"t":"N1","x":79.9,"y":398},{"t":"L=O","x":55.3,"y":398},{"t":"2","x":31.7,"y":398},{"t":"L","x":-8.2,"y":398}
],
"sup": [{"t":"iPr","x":30.6,"y":405}],
"sub": [{"t":"I₂","x":30.6,"y":391}]
},
"encoding": {
"x": {"field": "x", "type": "quantitative",
 "scale": {"domain": [-18.05, 101.8], "reverse": true, "nice": false, "zero": false},
 "axis": {
  "values": [100,97.5,95,92.5,90,87.5,85,82.5,80,77.5,75,72.5,70,67.5,65,62.5,60,57.5,55,52.5,50,47.5,45,42.5,40,37.5,35,32.5,30,27.5,25,22.5,20,17.5,15,12.5,10,7.5,5,2.5,0,-2.5,-5,-7.5,-10,-12.5,-15,-17.5],
  "labelExpr": "datum.value % 5 === 0 ? format(datum.value, 'd') : ''",
  "labelOverlap": false, "labelFlush": false,
  "grid": false, "tickSize": 3, "tickWidth": 1, "tickColor": "#333", "domainColor": "#333", "domainWidth": 1,
  "labelFont": "Liberation Sans", "labelFontSize": 10, "labelColor": "#333", "labelPadding": 2,
  "title": "ppm", "titleFont": "Liberation Sans", "titleFontSize": 12, "titleFontWeight": "bold", "titleColor": "#222",
  "titleX": 915, "titleY": 14, "titleAlign": "center", "titleBaseline": "alphabetic", "titleAnchor": null
 }},
"y": {"field": "y", "type": "quantitative", "scale": {"domain": [-37, 418], "nice": false, "zero": false}, "axis": null}
},
"layer": [
{"data": {"name": "spec"}, "mark": {"type": "line", "color": "black", "strokeWidth": 1.4, "clip": false},
 "encoding": {"detail": {"field": "s"}}},
{"data": {"name": "lab"}, "mark": {"type": "text", "align": "left", "baseline": "middle", "font": "Liberation Sans", "fontSize": 20, "color": "black"},
 "encoding": {"text": {"field": "t"}}},
{"data": {"name": "top"}, "mark": {"type": "text", "align": "center", "baseline": "middle", "font": "Lato", "fontWeight": "bold", "fontSize": 28, "color": "#4545CF"},
 "encoding": {"text": {"field": "t"}}},
{"data": {"name": "sup"}, "mark": {"type": "text", "align": "left", "baseline": "middle", "font": "Lato", "fontWeight": "bold", "fontStyle": "italic", "fontSize": 16, "color": "#4545CF"},
 "encoding": {"text": {"field": "t"}}},
{"data": {"name": "sub"}, "mark": {"type": "text", "align": "left", "baseline": "middle", "font": "Lato", "fontWeight": "bold", "fontSize": 15, "color": "#4545CF"},
 "encoding": {"text": {"field": "t"}}}
]
}
